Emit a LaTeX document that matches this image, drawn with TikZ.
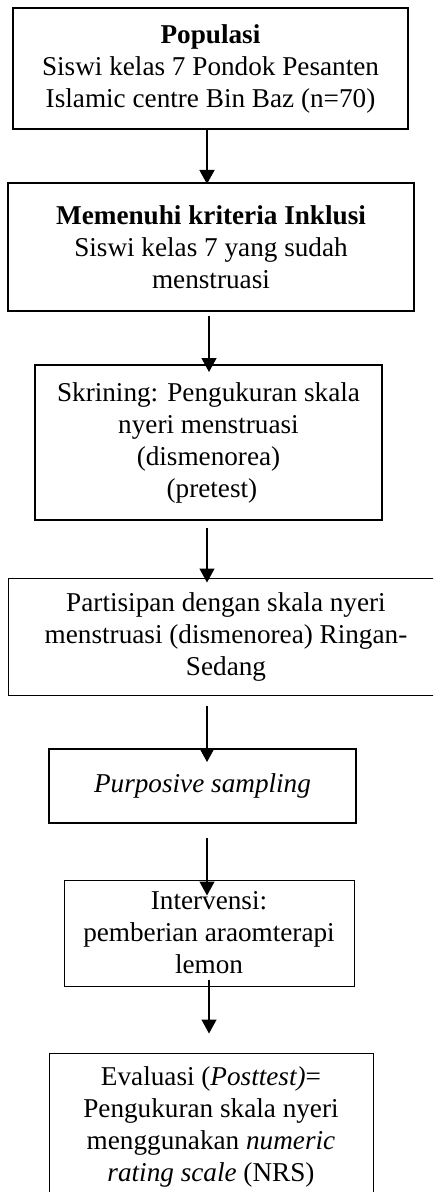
\documentclass[tikz,border=0pt]{standalone}
\usepackage{fontspec}
\setmainfont{Liberation Serif}
\usetikzlibrary{arrows.meta,calc}

\begin{document}
\begin{tikzpicture}[x=0.5pt,y=-0.5pt,
  box/.style={draw=black, line width=1pt, align=center, inner sep=0pt, font=\fontsize{13.6}{16}\selectfont},
  thinbox/.style={box, line width=0.5pt},
  arr/.style={line width=0.7pt, -{Triangle[width=7.5pt,length=7pt]}}]
\useasboundingbox (0,0) rectangle (433,1192);
\clip (0,0) rectangle (433,1192);
\node[box, minimum width=197.5pt, minimum height=60.5pt] (pop) at (210.5,68.5) {\textbf{Populasi}\\Siswi kelas 7 Pondok Pesanten\\Islamic centre Bin Baz (n=70)};
\node[box, minimum width=203pt, minimum height=64pt] (inkl) at (211,247) {\textbf{Memenuhi kriteria Inklusi}\\Siswi kelas 7 yang sudah\\menstruasi};
\node[box, minimum width=173.5pt, minimum height=77.5pt] (skr) at (208.5,442.5) {Skrining: Pengukuran skala\\nyeri menstruasi\\(dismenorea)\\\ (pretest)};
\node[thinbox, minimum width=218pt, minimum height=58.5pt] (part) at (226,636.5) {Partisipan dengan skala nyeri\\menstruasi (dismenorea) Ringan-\\Sedang};
\node[box, minimum width=153.5pt, minimum height=37pt] (purp) at (202.5,786) {\textit{Purposive sampling}};
\node[thinbox, minimum width=145pt, minimum height=53pt] (intv) at (209,933) {Intervensi:\\pemberian araomterapi\\lemon};
\node[thinbox, minimum width=162pt, minimum height=73.5pt] (eval) at (211,1126.5) {Evaluasi (\textit{Posttest)}=\\Pengukuran skala nyeri\\menggunakan \textit{numeric}\\\textit{rating scale} (NRS)};
\draw[arr] (pop.south -| 207,0) -- ($(inkl.north -| 207,0)+(0,2)$);
\draw[arr] ($(inkl.south -| 209,0)+(0,4)$) -- ($(skr.north -| 209,0)+(0,8)$);
\draw[arr] ($(skr.south -| 207,0)+(0,7)$) -- ($(part.north -| 207,0)+(0,5)$);
\draw[arr] ($(part.south -| 207,0)+(0,10)$) -- ($(purp.north -| 207,0)+(0,14)$);
\draw[arr] ($(purp.south -| 207,0)+(0,14)$) -- ($(intv.north -| 207,0)+(0,16)$);
\draw[arr] ($(intv.south -| 209,0)+(0,-7)$) -- ($(eval.north -| 209,0)+(0,-19)$);
\end{tikzpicture}
\end{document}
